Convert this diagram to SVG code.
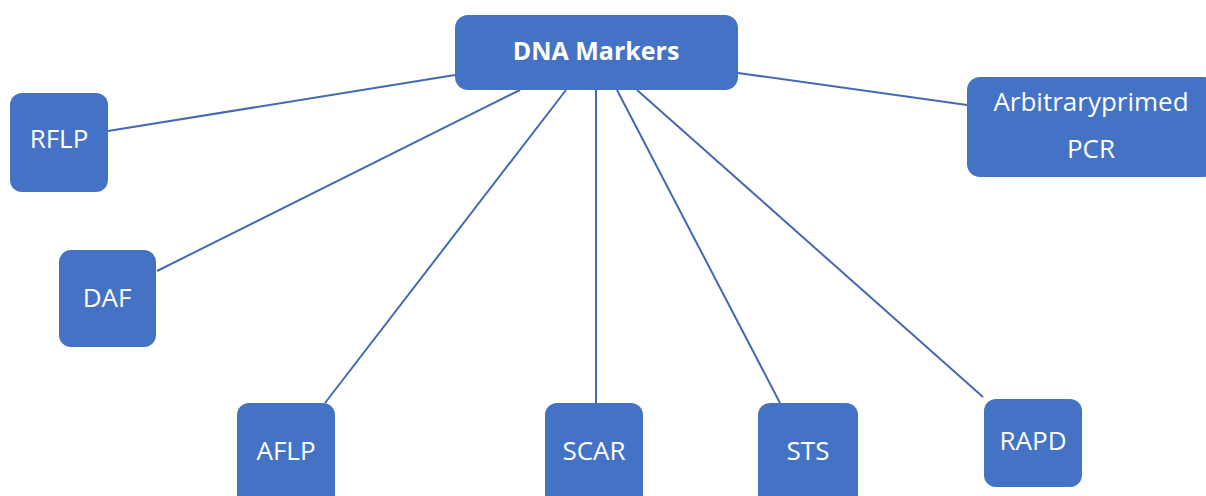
<svg xmlns="http://www.w3.org/2000/svg" width="1206" height="496" viewBox="0 0 1206 496">
<style>
.box{fill:#4472C4;}
.t{font-family:"Open Sans","Liberation Sans",sans-serif;font-size:26px;fill:#ffffff;text-anchor:middle;}
.tb{font-weight:bold;font-size:25px;}
.c{stroke:#4569B0;stroke-width:2;fill:none;}
</style>
<rect width="1206" height="496" fill="#ffffff"/>
<g id="connectors">
<line class="c" x1="455" y1="75" x2="108" y2="131"/>
<line class="c" x1="520" y1="90" x2="157" y2="271"/>
<line class="c" x1="566" y1="90" x2="325" y2="403"/>
<line class="c" x1="596" y1="90" x2="596" y2="403"/>
<line class="c" x1="617" y1="90" x2="780" y2="403"/>
<line class="c" x1="637" y1="90" x2="983" y2="397"/>
<line class="c" x1="738" y1="73" x2="967" y2="105"/>
</g>
<g id="dna-markers">
<rect class="box" x="455" y="15" width="283" height="75" rx="13"/>
<text class="t tb" x="596" y="60">DNA Markers</text>
</g>
<g id="rflp">
<rect class="box" x="10" y="93" width="98" height="99" rx="12"/>
<text class="t" x="59" y="148">RFLP</text>
</g>
<g id="daf">
<rect class="box" x="59" y="250" width="97" height="97" rx="12"/>
<text class="t" x="107" y="307">DAF</text>
</g>
<g id="aflp">
<rect class="box" x="237" y="403" width="98" height="105" rx="12"/>
<text class="t" x="286" y="460">AFLP</text>
</g>
<g id="scar">
<rect class="box" x="545" y="403" width="98" height="105" rx="12"/>
<text class="t" x="594" y="460">SCAR</text>
</g>
<g id="sts">
<rect class="box" x="758" y="403" width="100" height="105" rx="12"/>
<text class="t" x="808" y="460">STS</text>
</g>
<g id="rapd">
<rect class="box" x="984" y="399" width="98" height="88" rx="12"/>
<text class="t" x="1033" y="450">RAPD</text>
</g>
<g id="arbitrary-primed-pcr">
<rect class="box" x="967" y="77" width="250" height="100" rx="13"/>
<text class="t" x="1091" y="111">Arbitraryprimed</text>
<text class="t" x="1091" y="158">PCR</text>
</g>
</svg>
